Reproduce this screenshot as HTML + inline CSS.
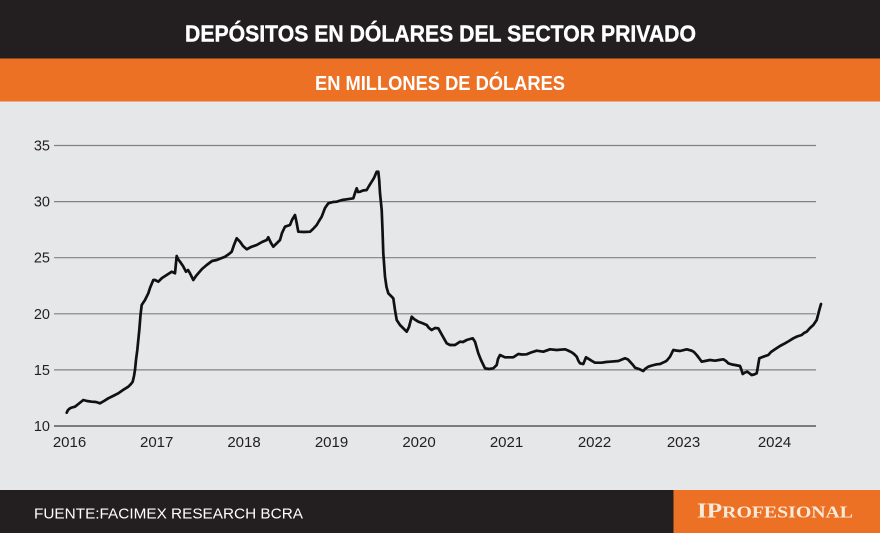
<!DOCTYPE html>
<html>
<head>
<meta charset="utf-8">
<style>
  html,body{margin:0;padding:0;background:#e6e7e8;}
  svg{display:block;}
</style>
</head>
<body>
<svg width="880" height="533" viewBox="0 0 880 533" xmlns="http://www.w3.org/2000/svg">
  <rect x="0" y="0" width="880" height="533" fill="#e6e7e8"/>
  <!-- header -->
  <rect x="0" y="0" width="880" height="58.5" fill="#231f20"/>
  <rect x="0" y="58.5" width="880" height="43" fill="#ec7124"/>
  <text x="185" y="41.5" font-family="Liberation Sans, sans-serif" font-weight="bold" font-size="23.5" fill="#ffffff" stroke="#ffffff" stroke-width="0.4" textLength="511" lengthAdjust="spacingAndGlyphs">DEPÓSITOS EN DÓLARES DEL SECTOR PRIVADO</text>
  <text x="315" y="90" font-family="Liberation Sans, sans-serif" font-weight="bold" font-size="20" fill="#ffffff" textLength="250" lengthAdjust="spacingAndGlyphs">EN MILLONES DE DÓLARES</text>

  <!-- gridlines -->
  <g stroke="#808285" stroke-width="1.2">
    <line x1="54" y1="145.5" x2="816" y2="145.5"/>
    <line x1="54" y1="201.6" x2="816" y2="201.6"/>
    <line x1="54" y1="257.7" x2="816" y2="257.7"/>
    <line x1="54" y1="313.8" x2="816" y2="313.8"/>
    <line x1="54" y1="369.9" x2="816" y2="369.9"/>
  </g>
  <line x1="54" y1="426" x2="816" y2="426" stroke="#58595b" stroke-width="1.6"/>

  <!-- y labels -->
  <g font-family="Liberation Sans, sans-serif" font-size="14.5" fill="#231f20" text-anchor="end">
    <text x="50" y="150.5">35</text>
    <text x="50" y="206.6">30</text>
    <text x="50" y="262.7">25</text>
    <text x="50" y="318.8">20</text>
    <text x="50" y="374.9">15</text>
    <text x="50" y="431">10</text>
  </g>
  <!-- x labels -->
  <g font-family="Liberation Sans, sans-serif" font-size="15" fill="#231f20" text-anchor="middle">
    <text x="69.5" y="447">2016</text>
    <text x="156.7" y="447">2017</text>
    <text x="244" y="447">2018</text>
    <text x="331.5" y="447">2019</text>
    <text x="419" y="447">2020</text>
    <text x="506.5" y="447">2021</text>
    <text x="594.5" y="447">2022</text>
    <text x="683.5" y="447">2023</text>
    <text x="774.5" y="447">2024</text>
  </g>

  <!-- series -->
  <polyline fill="none" stroke="#111111" stroke-width="2.7" stroke-linejoin="round" stroke-linecap="round" points="
66.7,412.7 68,410 70,408.3 72,407.5 75,406.7 79,403.5 83.3,400 87,401 91.7,401.7 96,402 100,403.3 104,401
108.3,398.3 113,396 118.3,393.3 123,390 128.3,386.7 131,384 132.7,381.7 134,376 135,370 136,360 137.3,350
138.5,338 139.3,330 140.5,315 141.7,305 145,300 148.3,293.3 150,288 153.3,280 155,280 158.3,281.7 162,278
166.7,275 171.7,271.7 175,273.3 175.8,265 176.7,256 178,259 180,261.7 183,266 186,271.7 188,270 190,273.3 193.3,280
196,276 198.3,273.3 202,269 206.7,265 212,261 216.7,260 225,256.7 229,254 231.7,251.7 234,245 236.7,238.3
240,241.7 243,246 246.7,249.3 251,247 256.7,245 262,242 266.7,240 268.3,237.3 271,243 273.3,246.7 277,243
280,240 282,233 285,226.7 290,225 292,220 295,215 296.5,222 298.3,231.7 304,232 310,231.7 313,229 316.7,225
319,221 321.7,216.7 325,208 328.3,203.3 333,202 336.7,201.7 342,200 346.7,199.3 353.3,198.3 355,193 356.7,188.3
358,192 360,191.7 363,190.5 366.7,190 369,186 371.7,181.7 374,178 376.7,171.7 378.3,171.7 379.2,180 380,193.3
381.7,210 382.5,230 383.3,253.3 385,276.7 386.5,287 388.3,293.3 391,296 393.3,298.3 395,310 396.7,320 400,325
403,328 406.7,331.7 409,327 411.7,316.7 414,319 418.3,321.7 422,323 426.7,325 429,328 431.7,330 435,328
438.3,328.3 442,335 446.7,343.3 450,345 455,345 460,341.7 463,342 466.7,340 470,339 472.7,338.3 475,341.7
478.3,353.3 481,360 485,368.3 489,369 493.3,368.3 496.7,365 498,359 500,355 505,357.3 513.3,357.3 518.3,354
522,354.5 526.7,354.3 531,352.5 536.7,350.7 543.3,351.7 550,349.3 556.7,350 565,349.3 568,350.5 571.7,352.3
574,354 576.7,356.7 578.5,361 580,363.3 583.3,364 586,357.3 589.3,359.3 592,361 595,362.7 601.7,362.7 606,362
610,361.7 618.3,361 622,359.5 625,358.3 628,359.5 630,361.7 633,365 635,367.7 639,369 643.3,371 645,369
648.3,366.7 652,365.5 656.7,364.3 660,364 665,361.7 666.7,360.7 670,356.7 671.7,353.3 673.3,350 676,350.5
680,351 686.7,349.3 691.7,350.7 694,352 696.7,355 699,358 701.7,361.7 705,361 710,360 715,360.7 719,360
723.3,359.3 726,361 728.3,363.3 732,364.5 735,365 740,366 741.5,370 742.7,374 745,372.5 747.3,371.7 751.7,375
754,374.5 756.7,373.3 758,366 759.3,358.3 763.3,356.7 768.3,355 771,352 775,349.3 780,346 785,343.3 789,341
793.3,338.3 797,336.5 801.7,335 804,333 806.7,331.7 810,328 813.3,325 816.7,320 818,315 819.3,310 821,304"/>

  <!-- footer -->
  <rect x="0" y="490" width="880" height="43" fill="#231f20"/>
  <rect x="673.5" y="490" width="206.5" height="43" fill="#ec7124"/>
  <text x="34" y="518.3" font-family="Liberation Sans, sans-serif" font-size="15" fill="#ffffff" textLength="269" lengthAdjust="spacingAndGlyphs">FUENTE:FACIMEX RESEARCH BCRA</text>
  <text x="697" y="517.5" font-family="Liberation Serif, serif" font-weight="bold" fill="#f8eadb" textLength="156" lengthAdjust="spacingAndGlyphs"><tspan font-size="21">IP</tspan><tspan font-size="16.5">ROFESIONAL</tspan></text>
</svg>
</body>
</html>
